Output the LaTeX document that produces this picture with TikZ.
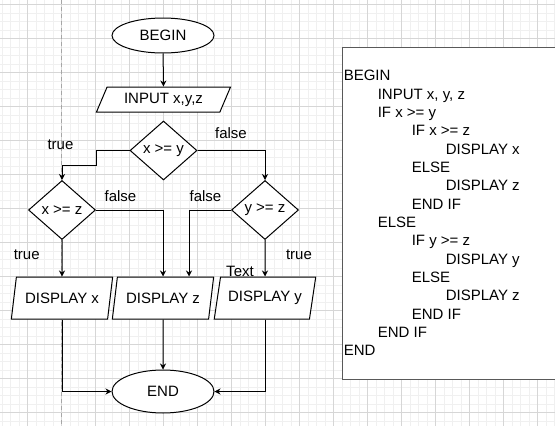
\documentclass[tikz,border=0pt]{standalone}
\usepackage{fontspec}
\setmainfont{Liberation Sans}
\usepackage{tikz}
\usetikzlibrary{shapes.geometric,arrows.meta}
\tikzset{
    terminal/.style={ellipse,draw,fill=white,minimum width=102pt,inner sep=0pt},
    inout/.style={trapezium,draw,fill=white,trapezium stretches=true,inner sep=0pt},
    readbox/.style={inout,minimum width=135pt,minimum height=25pt,trapezium left angle=61,trapezium right angle=119},
    showbox/.style={inout,minimum width=102pt,minimum height=42pt,trapezium left angle=69,trapezium right angle=111},
    decision/.style={diamond,draw,fill=white,minimum width=67pt,minimum height=59pt,inner sep=0pt},
    flow/.style={-{Stealth[length=6pt,width=6pt]}},
    lbl/.style={inner sep=0pt},
    minorgrid/.style={draw=black!6,line width=0.6pt},
    majorgrid/.style={draw=black!16,line width=0.6pt}
}

\begin{document}
\begin{tikzpicture}[x=1pt,y=-1pt,line width=1pt,font=\fontsize{15}{18}\selectfont]
    \useasboundingbox (0,0) rectangle (555,426);
    \clip (0,0) rectangle (555,426);
    \fill[white] (0,0) rectangle (555,426);
    \foreach \k in {0,...,65}
        \draw[minorgrid] ({1.8+8.5*\k},0) -- ({1.8+8.5*\k},426);
    \foreach \k in {0,...,50}
        \draw[minorgrid] (0,{4.3+8.5*\k}) -- (555,{4.3+8.5*\k});
    \foreach \k in {0,...,16}
        \draw[majorgrid] ({27.3+34*\k},0) -- ({27.3+34*\k},426);
    \foreach \k in {0,...,12}
        \draw[majorgrid] (0,{4.3+34*\k}) -- (555,{4.3+34*\k});
    \draw[black!35,line width=0.8pt,dash pattern=on 4pt off 3pt] (61.7,0) -- (61.7,426);

    \node[terminal,minimum height=35pt] (begin) at (163,35.5) {BEGIN};
    \node[readbox] (input) at (163.5,99.5) {INPUT x,y,z};
    \node[decision] (xy) at (163.5,150.5) {x >= y};
    \node[decision] (xz) at (62,210) {x >= z};
    \node[decision] (yz) at (265,210) {y >= z};
    \node[showbox] (dx) at (62,298) {DISPLAY x};
    \node[showbox] (dz) at (163,298) {DISPLAY z};
    \node[showbox] (dy) at (265,298) {DISPLAY y};
    \node[terminal,minimum height=43pt] (end) at (163,391.5) {END};

    \draw[flow] (begin) -- (input);
    \draw[flow] (xy.west) -- (96,150.5) -- (96,165.5) -| (xz.north);
    \draw[flow] (xy.east) -| (yz.north);
    \draw[flow] (xz.east) -| (dz.north);
    \draw[flow] (yz.west) -| ([xshift=26pt]dz.north);
    \draw[flow] (xz.south) -- (dx.north);
    \draw[flow] (yz.south) -- (dy.north);
    \draw[flow] (dx.south) |- (end.west);
    \draw[flow] (dz.south) -- (end.north);
    \draw[flow] (dy.south) |- (end.east);

    \node[lbl] (t1) at (60.5,145) {true};
    \node[lbl] (f1) at (231,133) {false};
    \node[lbl] (f2) at (120.5,196) {false};
    \node[lbl] (f3) at (205.5,196) {false};
    \node[lbl] (t2) at (26.7,255) {true};
    \node[lbl] (t3) at (299,255) {true};
    \node[lbl] (txt) at (240,271.7) {Text};

    \node[draw=black!65,fill=white,anchor=north west,minimum width=218pt,minimum height=332pt,inner sep=0pt] (code) at (342,47) {};
    \foreach \lvl/\txt [count=\i] in {0/BEGIN,1/{INPUT x, y, z},1/{IF x >= y},2/{IF x >= z},3/{DISPLAY x},2/ELSE,3/{DISPLAY z},2/{END IF},1/ELSE,2/{IF y >= z},3/{DISPLAY y},2/ELSE,3/{DISPLAY z},2/{END IF},1/{END IF},0/END}
        \node[lbl,anchor=base west] (line\i) at ({343.3+34*\lvl},{62.4+18.33*\i}) {\txt};
\end{tikzpicture}
\end{document}
